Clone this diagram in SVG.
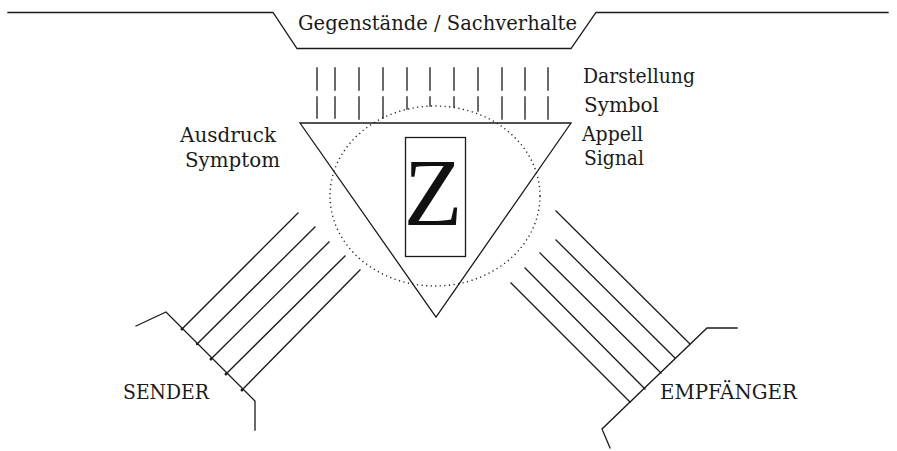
<svg xmlns="http://www.w3.org/2000/svg" width="897" height="451" viewBox="0 0 897 451">
<style>
.ln{fill:none;stroke:#1a1a1a;stroke-width:1.3;stroke-linecap:square}
.dot{fill:none;stroke:#222;stroke-width:1.4;stroke-dasharray:1.2 3.4}
</style>
<rect width="897" height="451" fill="#fff"/>
<g font-family="DejaVu Serif, Liberation Serif, serif" font-size="20" fill="#1a1a1a">
<g id="gegenstaende">
<polyline class="ln" points="8,12.5 273,12.5 297,48.5 571,48.5 596,12.5 888,12.5"/>
<text x="298" y="30" textLength="279" lengthAdjust="spacingAndGlyphs">Gegenstände / Sachverhalte</text>
</g>
<g id="wahrnehmungskreis">
<ellipse class="dot" cx="435" cy="196" rx="105" ry="90"/>
</g>
<g id="zeichen">
<polygon class="ln" points="300,123 571,123 436,317"/>
<rect class="ln" x="405.5" y="137.5" width="60" height="119"/>
<text x="433" y="225" text-anchor="middle" font-family="Liberation Serif, Times New Roman, serif" font-size="96" fill="#111">Z</text>
</g>
<g id="sender">
<polyline class="ln" points="136,326 166,312 255,401 255,430"/>
<text x="123" y="399" textLength="86" lengthAdjust="spacingAndGlyphs">SENDER</text>
</g>
<g id="empfaenger">
<polyline class="ln" points="737,328 707,328 602,429 610,448"/>
<text x="660" y="399" textLength="137" lengthAdjust="spacingAndGlyphs">EMPFÄNGER</text>
</g>
<g id="labels">
<text x="583" y="83" textLength="112" lengthAdjust="spacingAndGlyphs">Darstellung</text>
<text x="584" y="112" textLength="75" lengthAdjust="spacingAndGlyphs">Symbol</text>
<text x="582" y="140.5" textLength="61" lengthAdjust="spacingAndGlyphs">Appell</text>
<text x="584" y="165" textLength="60" lengthAdjust="spacingAndGlyphs">Signal</text>
<text x="180" y="141.5" textLength="96" lengthAdjust="spacingAndGlyphs">Ausdruck</text>
<text x="185" y="167" textLength="95" lengthAdjust="spacingAndGlyphs">Symptom</text>
</g>
</g>
<g id="connectors" class="ln">
<path d="M317,68V90M335,68V90M359,68V90M383,68V90M407,68V90M430,68V90M454,68V90M478,68V90M502,68V90M525,68V90M548,68V90"/>
<path d="M317,97V118M335,97V118M359,97V119M383,97V118M407,97V109M430,97V106M454,97V107M478,97V111M502,97V119M525,97V119M548,97V119"/>
<path d="M182,329L298,213M197,344L315,227M211,359L329,242M226,374L345,256M242,390L360,270"/>
<path d="M556,211L690,344M556,240L675,358M540,253L661,373M525,268L645,389M511,283L630,402"/>
<g fill="#1a1a1a" stroke="none">
<circle cx="182" cy="329" r="1.5"/><circle cx="197" cy="344" r="1.2"/><circle cx="211" cy="359" r="1.5"/><circle cx="226" cy="374" r="1.5"/><circle cx="242" cy="390" r="1.5"/>
</g>
</g>
</svg>
